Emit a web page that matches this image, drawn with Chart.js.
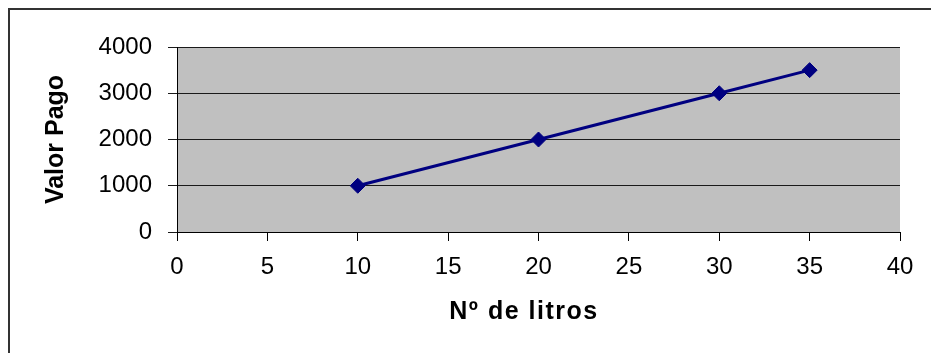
<!DOCTYPE html>
<html>
<head>
<meta charset="utf-8">
<title>Valor Pago x Nº de litros</title>
<script src="https://cdn.jsdelivr.net/npm/chart.js@4/dist/chart.umd.min.js"></script>
<style>
  html, body { margin: 0; padding: 0; background: #ffffff; }
  #wrap { position: relative; width: 931px; height: 353px; }
</style>
</head>
<body>
<div id="wrap"><canvas id="chart" width="931" height="353"></canvas></div>
<script>
// Litres bought and the amount paid for them
const litros = [10, 20, 30, 35];
const valorPago = [1000, 2000, 3000, 3500];

const xTitle = 'Nº de litros';
const yTitle = 'Valor Pago';

const FONT = '"Liberation Sans", Arial, sans-serif';

// Grey plot background, frame around the figure and the two axis titles
const decor = {
  id: 'decor',
  beforeDraw(chart) {
    const { ctx, chartArea: a } = chart;
    ctx.save();
    ctx.fillStyle = '#ffffff';
    ctx.fillRect(0, 0, chart.width, chart.height);
    ctx.fillStyle = '#c0c0c0';
    ctx.fillRect(a.left, a.top, a.right - a.left, a.bottom - a.top);
    ctx.fillStyle = '#333333';
    ctx.fillRect(8, 8, 2, chart.height - 8);
    ctx.fillRect(8, 8, chart.width - 8, 2);
    ctx.restore();
  },
  afterDraw(chart) {
    const { ctx, chartArea: a } = chart;
    ctx.save();
    ctx.fillStyle = '#000000';
    ctx.textAlign = 'center';
    ctx.textBaseline = 'alphabetic';
    ctx.font = 'bold 25px ' + FONT;
    ctx.letterSpacing = '1.5px';
    ctx.fillText(xTitle, 524, 319);
    ctx.letterSpacing = '0px';
    ctx.translate(63, (a.top + a.bottom) / 2);
    ctx.rotate(-Math.PI / 2);
    ctx.fillText(yTitle, 0, 0);
    ctx.restore();
  }
};

// Plain numbers on both axes, no thousands separator
const plain = (v) => String(v);

new Chart(document.getElementById('chart'), {
  type: 'scatter',
  data: {
    datasets: [{
      data: litros.map((x, i) => ({ x, y: valorPago[i] })),
      showLine: true,
      borderColor: '#000080',
      backgroundColor: '#000080',
      borderWidth: 3,
      pointStyle: 'rectRot',
      pointRadius: 7.5,
      pointBorderWidth: 1,
      pointBorderColor: '#000080',
      pointBackgroundColor: '#000080',
      pointHoverRadius: 7.5
    }]
  },
  options: {
    responsive: false,
    animation: false,
    layout: { padding: { top: 47, right: 31, left: 0, bottom: 0 } },
    plugins: { legend: { display: false }, tooltip: { enabled: false } },
    scales: {
      x: {
        type: 'linear',
        min: 0,
        max: 40,
        afterFit(scale) { scale.height = 121; },
        ticks: { stepSize: 5, callback: plain, color: '#000000', padding: 12, font: { family: FONT, size: 24 } },
        grid: { drawOnChartArea: false, drawTicks: true, tickLength: 9, color: '#000000', lineWidth: 1 },
        border: { display: true, color: '#000000', width: 1 }
      },
      y: {
        min: 0,
        max: 4000,
        afterFit(scale) { scale.width = 177; },
        ticks: { stepSize: 1000, callback: plain, color: '#000000', padding: 16, font: { family: FONT, size: 24 } },
        grid: { drawOnChartArea: true, drawTicks: true, tickLength: 9, color: '#1a1a1a', lineWidth: 1 },
        border: { display: true, color: '#000000', width: 1 }
      }
    }
  },
  plugins: [decor]
});
</script>
</body>
</html>
